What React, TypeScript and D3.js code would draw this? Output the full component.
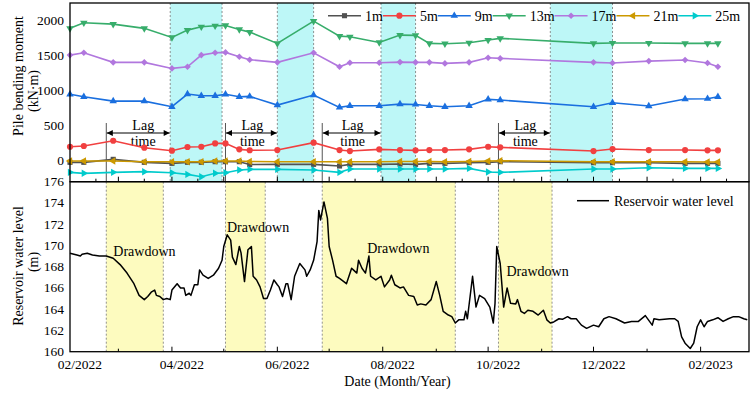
/** @format */

import React, { useEffect, useRef } from 'react';
import * as d3 from 'd3';

// Pile bending moment survey dates
const surveyDates = [
	'2022-02-01', '2022-02-09', '2022-02-26', '2022-03-16', '2022-04-01',
	'2022-04-10', '2022-04-18', '2022-04-26', '2022-05-02', '2022-05-10',
	'2022-05-16', '2022-06-01', '2022-06-22', '2022-07-07', '2022-07-13',
	'2022-07-30', '2022-08-11', '2022-08-20', '2022-08-28', '2022-09-06',
	'2022-09-20', '2022-10-01', '2022-10-08', '2022-12-01', '2022-12-12',
	'2023-01-02', '2023-01-23', '2023-02-05', '2023-02-11',
];

// Bending moment (kN·m) at each depth
const moment1m = [-33, -33, 10, -33, -48, -33, -33, -24, -24, -24, -65, -62, -62, -86, -62, -62, -57, -62, -48, -48, -38, -33, -24, -38, -38, -38, -48, -48, -48];
const moment5m = [191, 201, 277, 177, 134, 187, 191, 239, 239, 153, 140, 143, 249, 143, 129, 153, 143, 139, 143, 143, 153, 191, 182, 129, 158, 143, 143, 139, 139];
const moment9m = [943, 908, 846, 846, 765, 947, 923, 923, 943, 908, 913, 789, 933, 756, 779, 779, 803, 798, 779, 765, 779, 871, 861, 765, 822, 775, 875, 880, 908];
const moment13m = [1890, 1970, 1951, 1890, 1760, 1865, 1912, 1927, 1932, 1875, 1836, 1674, 1994, 1779, 1769, 1688, 1793, 1789, 1674, 1669, 1683, 1722, 1746, 1674, 1679, 1679, 1674, 1674, 1674];
const moment17m = [1506, 1540, 1402, 1402, 1315, 1339, 1506, 1540, 1545, 1483, 1440, 1402, 1540, 1339, 1396, 1396, 1406, 1402, 1402, 1387, 1402, 1468, 1459, 1402, 1392, 1420, 1435, 1392, 1339];
const moment21m = [-14, -14, -14, -24, -24, -24, -24, -14, -14, -14, -20, -24, -24, -24, -24, -24, -20, -20, -20, -24, -20, -14, -10, -24, -24, -24, -24, -28, -28];
const moment25m = [-177, -191, -177, -167, -182, -206, -239, -191, -182, -143, -134, -134, -143, -177, -129, -129, -129, -129, -129, -129, -120, -172, -177, -129, -129, -110, -120, -120, -120];

const depthNames = ['1m', '5m', '9m', '13m', '17m', '21m', '25m'];
const depthValues = [moment1m, moment5m, moment9m, moment13m, moment17m, moment21m, moment25m];

// Reservoir water level (m)
const reservoirLevel: [string, number][] = [
	['2022-02-01', 169.26], ['2022-02-05', 169.1], ['2022-02-07', 169.0], ['2022-02-08', 169.17],
	['2022-02-11', 169.26], ['2022-02-14', 169.1], ['2022-02-18', 169.0], ['2022-02-22', 169.0],
	['2022-02-26', 168.8], ['2022-03-02', 168.2], ['2022-03-06', 167.4], ['2022-03-10', 166.4],
	['2022-03-13', 165.3], ['2022-03-16', 164.9], ['2022-03-18', 165.2], ['2022-03-20', 165.6],
	['2022-03-22', 165.8], ['2022-03-23', 165.3], ['2022-03-25', 165.2], ['2022-03-27', 164.9],
	['2022-03-29', 165.0], ['2022-03-31', 164.9], ['2022-04-01', 165.8], ['2022-04-04', 166.4],
	['2022-04-06', 166.0], ['2022-04-08', 166.0], ['2022-04-09', 165.3], ['2022-04-11', 165.5],
	['2022-04-12', 165.3], ['2022-04-14', 166.3], ['2022-04-16', 166.3], ['2022-04-17', 167.7],
	['2022-04-19', 167.2], ['2022-04-22', 166.9], ['2022-04-25', 167.2], ['2022-04-28', 167.85],
	['2022-04-30', 168.6], ['2022-05-01', 169.9], ['2022-05-03', 171.0], ['2022-05-05', 170.5],
	['2022-05-06', 168.9], ['2022-05-08', 168.2], ['2022-05-10', 169.9], ['2022-05-11', 169.3],
	['2022-05-13', 166.6], ['2022-05-15', 169.6], ['2022-05-17', 169.9], ['2022-05-18', 167.1],
	['2022-05-20', 166.75], ['2022-05-22', 166.1], ['2022-05-24', 165.0], ['2022-05-26', 165.0],
	['2022-05-28', 165.8], ['2022-05-30', 166.75], ['2022-06-01', 166.3], ['2022-06-02', 166.1],
	['2022-06-04', 165.2], ['2022-06-06', 166.4], ['2022-06-07', 166.4], ['2022-06-09', 164.9],
	['2022-06-11', 167.1], ['2022-06-14', 168.3], ['2022-06-17', 167.7], ['2022-06-18', 167.1],
	['2022-06-20', 167.7], ['2022-06-22', 168.6], ['2022-06-24', 170.35], ['2022-06-25', 173.3],
	['2022-06-26', 172.4], ['2022-06-28', 174.1], ['2022-06-30', 172.55], ['2022-07-01', 169.9],
	['2022-07-03', 168.6], ['2022-07-05', 167.1], ['2022-07-07', 166.9], ['2022-07-11', 166.4],
	['2022-07-14', 167.85], ['2022-07-15', 167.7], ['2022-07-17', 167.4], ['2022-07-18', 168.6],
	['2022-07-20', 167.85], ['2022-07-22', 167.4], ['2022-07-24', 169.0], ['2022-07-25', 167.1],
	['2022-07-28', 166.75], ['2022-07-31', 167.1], ['2022-08-02', 166.1], ['2022-08-05', 166.75],
	['2022-08-06', 167.2], ['2022-08-08', 166.3], ['2022-08-11', 166.0], ['2022-08-13', 166.1],
	['2022-08-16', 165.3], ['2022-08-19', 165.2], ['2022-08-21', 164.4], ['2022-08-23', 164.5],
	['2022-08-26', 164.4], ['2022-08-29', 164.9], ['2022-09-01', 166.6], ['2022-09-03', 165.3],
	['2022-09-05', 163.8], ['2022-09-08', 163.45], ['2022-09-10', 163.3], ['2022-09-12', 162.7],
	['2022-09-14', 163.0], ['2022-09-17', 163.0], ['2022-09-18', 163.8], ['2022-09-19', 163.1],
	['2022-09-22', 167.1], ['2022-09-24', 164.2], ['2022-09-26', 165.3], ['2022-09-29', 165.0],
	['2022-10-02', 164.2], ['2022-10-04', 162.7], ['2022-10-05', 164.55], ['2022-10-06', 169.9],
	['2022-10-08', 168.3], ['2022-10-10', 164.2], ['2022-10-12', 166.0], ['2022-10-14', 164.55],
	['2022-10-17', 164.5], ['2022-10-18', 164.9], ['2022-10-20', 163.8], ['2022-10-22', 163.6],
	['2022-10-24', 163.9], ['2022-10-27', 163.8], ['2022-10-30', 163.45], ['2022-11-02', 163.9],
	['2022-11-04', 163.0], ['2022-11-06', 162.7], ['2022-11-08', 162.8], ['2022-11-11', 163.1],
	['2022-11-13', 163.05], ['2022-11-16', 163.3], ['2022-11-18', 163.1], ['2022-11-21', 163.1],
	['2022-11-24', 162.5], ['2022-11-27', 162.2], ['2022-12-01', 162.5], ['2022-12-04', 162.35],
	['2022-12-07', 163.1], ['2022-12-10', 163.3], ['2022-12-14', 163.1], ['2022-12-19', 162.7],
	['2022-12-23', 162.85], ['2022-12-27', 162.85], ['2022-12-31', 163.4], ['2023-01-04', 162.5],
	['2023-01-05', 163.1], ['2023-01-08', 163.0], ['2023-01-11', 163.05], ['2023-01-14', 163.1],
	['2023-01-17', 163.1], ['2023-01-19', 162.85], ['2023-01-21', 161.4], ['2023-01-23', 160.8],
	['2023-01-26', 160.3], ['2023-01-28', 160.8], ['2023-01-30', 162.35], ['2023-02-01', 163.0],
	['2023-02-03', 162.35], ['2023-02-05', 162.85], ['2023-02-08', 163.0], ['2023-02-11', 163.2],
	['2023-02-14', 162.85], ['2023-02-17', 163.1], ['2023-02-20', 163.3], ['2023-02-23', 163.3],
	['2023-02-26', 163.1], ['2023-02-28', 163.0],
];

// Drawdown periods of the reservoir and the matching pile response periods
const drawdownPeriods: [string, string][] = [
	['2022-02-22', '2022-03-27'],
	['2022-05-02', '2022-05-25'],
	['2022-06-27', '2022-09-12'],
	['2022-10-07', '2022-11-07'],
];
const responsePeriods: [string, string][] = [
	['2022-03-31', '2022-04-30'],
	['2022-06-01', '2022-06-22'],
	['2022-07-31', '2022-08-20'],
	['2022-11-06', '2022-12-12'],
];

const momentTicks = [0, 500, 1000, 1500, 2000];
const levelTicks = [160, 162, 164, 166, 168, 170, 172, 174, 176];

const colors = ['#515151', '#F14040', '#1A6FDF', '#37AD6B', '#B177DE', '#CC9900', '#00CBCC'];
const FONT = "'Liberation Serif', 'Times New Roman', serif";

const App: React.FC = () => {
	const ref = useRef<SVGSVGElement>(null);

	useEffect(() => {
		if (!ref.current) return;
		const svg = d3.select(ref.current);
		svg.selectAll('*').remove();

		const left = 70;
		const right = 749;
		const top = 3;
		const mid = 181.7;
		const bottom = 351.7;

		const parse = d3.timeParse('%Y-%m-%d');
		const p = (s: string) => parse(s) as Date;

		const x = d3
			.scaleTime()
			.domain([p('2022-02-01'), p('2023-03-01')])
			.range([left, right]);
		const yMoment = d3.scaleLinear().domain([-311, 2254]).range([mid, top]);
		const yLevel = d3.scaleLinear().domain([160, 176]).range([bottom, mid]);

		svg.attr('font-family', FONT);

		// arrowhead for lag-time arrows
		svg
			.append('defs')
			.append('marker')
			.attr('id', 'lag-arrow')
			.attr('viewBox', '0 0 10 10')
			.attr('refX', 10)
			.attr('refY', 5)
			.attr('markerWidth', 9)
			.attr('markerHeight', 6)
			.attr('markerUnits', 'userSpaceOnUse')
			.attr('orient', 'auto-start-reverse')
			.append('path')
			.attr('d', 'M0,0 L10,5 L0,10 Z')
			.attr('fill', '#000');

		// --- shaded periods ---
		const bands = (
			periods: [string, string][],
			fill: string,
			y0: number,
			y1: number,
		) => {
			const g = svg.append('g');
			g.selectAll('rect')
				.data(periods)
				.enter()
				.append('rect')
				.attr('x', (d) => x(p(d[0])))
				.attr('width', (d) => x(p(d[1])) - x(p(d[0])))
				.attr('y', y0)
				.attr('height', y1 - y0)
				.attr('fill', fill);
			g.selectAll('line')
				.data(periods.flat())
				.enter()
				.append('line')
				.attr('x1', (d) => x(p(d)))
				.attr('x2', (d) => x(p(d)))
				.attr('y1', y0)
				.attr('y2', y1)
				.attr('stroke', '#777')
				.attr('stroke-width', 0.8)
				.attr('stroke-dasharray', '2,2');
		};
		bands(responsePeriods, '#bdf7f7', top, mid);
		bands(drawdownPeriods, '#fdfbbf', mid, bottom);

		// --- lag time annotations ---
		const lag = svg.append('g');
		drawdownPeriods.forEach((dd, i) => {
			const x0 = x(p(dd[0]));
			const x1 = x(p(responsePeriods[i][0]));
			lag.append('line')
				.attr('x1', x0)
				.attr('x2', x0)
				.attr('y1', 123)
				.attr('y2', mid)
				.attr('stroke', '#555')
				.attr('stroke-width', 1);
			lag.append('line')
				.attr('x1', x0 + 0.5)
				.attr('x2', x1 - 0.5)
				.attr('y1', 133)
				.attr('y2', 133)
				.attr('stroke', '#000')
				.attr('stroke-width', 1)
				.attr('marker-start', 'url(#lag-arrow)')
				.attr('marker-end', 'url(#lag-arrow)');
			const cx = (x0 + x1) / 2 + (i === 0 ? 5 : 1);
			lag.append('text')
				.attr('x', cx)
				.attr('y', 129.5)
				.attr('text-anchor', 'middle')
				.attr('font-size', 14)
				.text('Lag');
			lag.append('text')
				.attr('x', cx)
				.attr('y', 146)
				.attr('text-anchor', 'middle')
				.attr('font-size', 14)
				.text('time');
		});

		// --- bending moment series ---
		const dates = surveyDates.map(p);
		const line = d3
			.line<number>()
			.x((_, i) => x(dates[i]))
			.y((d) => yMoment(d));
		const shapes = [
			{ type: d3.symbolSquare, size: 26, rot: 0 },
			{ type: d3.symbolCircle, size: 30, rot: 0 },
			{ type: d3.symbolTriangle, size: 24, rot: 0 },
			{ type: d3.symbolTriangle, size: 24, rot: 180 },
			{ type: d3.symbolSquare, size: 22, rot: 45 },
			{ type: d3.symbolTriangle, size: 24, rot: -90 },
			{ type: d3.symbolTriangle, size: 24, rot: 90 },
		];
		const drawMarker = (
			g: d3.Selection<SVGGElement, unknown, null, undefined>,
			k: number,
			cx: number,
			cy: number,
		) => {
			g.append('path')
				.attr('d', d3.symbol(shapes[k].type, shapes[k].size)() as string)
				.attr('transform', `translate(${cx},${cy}) rotate(${shapes[k].rot})`)
				.attr('fill', colors[k]);
		};

		const seriesG = svg.append('g');
		depthValues.forEach((vals, k) => {
			seriesG
				.append('path')
				.attr('d', line(vals))
				.attr('fill', 'none')
				.attr('stroke', colors[k])
				.attr('stroke-width', 1.6);
			const mg = seriesG.append('g') as d3.Selection<SVGGElement, unknown, null, undefined>;
			vals.forEach((v, i) => drawMarker(mg, k, x(dates[i]), yMoment(v)));
		});

		// --- reservoir water level ---
		svg
			.append('path')
			.datum(reservoirLevel)
			.attr(
				'd',
				d3
					.line<[string, number]>()
					.x((d) => x(p(d[0])))
					.y((d) => yLevel(d[1])),
			)
			.attr('fill', 'none')
			.attr('stroke', '#000')
			.attr('stroke-width', 1.5)
			.attr('stroke-linejoin', 'round');

		// drawdown labels: [offset from period start, baseline]
		const drawdownLabelAt = [
			[7, 256],
			[1.5, 232],
			[45, 253],
			[8, 276],
		];
		drawdownPeriods.forEach((dd, i) => {
			svg
				.append('text')
				.attr('x', x(p(dd[0])) + drawdownLabelAt[i][0])
				.attr('y', drawdownLabelAt[i][1])
				.attr('font-size', 14)
				.text('Drawdown');
		});

		// --- frames ---
		svg
			.append('rect')
			.attr('x', left)
			.attr('y', top)
			.attr('width', right - left)
			.attr('height', mid - top)
			.attr('fill', 'none')
			.attr('stroke', '#000')
			.attr('stroke-width', 1.3);
		svg
			.append('rect')
			.attr('x', left)
			.attr('y', mid)
			.attr('width', right - left)
			.attr('height', bottom - mid)
			.attr('fill', 'none')
			.attr('stroke', '#000')
			.attr('stroke-width', 1.3);

		// --- x ticks ---
		const months = d3.timeMonth.range(p('2022-02-01'), p('2023-03-02'));
		const ticksG = svg.append('g').attr('stroke', '#000').attr('stroke-width', 1);
		months.forEach((m, i) => {
			const mx = x(m);
			if (mx > left + 0.5 && mx < right - 0.5) {
				// bottom panel: monthly, longer on labelled months
				ticksG.append('line')
					.attr('x1', mx)
					.attr('x2', mx)
					.attr('y1', bottom)
					.attr('y2', bottom - (i % 2 === 0 ? 5 : 3));
				// top panel: monthly and half-monthly
				ticksG.append('line')
					.attr('x1', mx)
					.attr('x2', mx)
					.attr('y1', mid)
					.attr('y2', mid - 5);
			}
			const half = x(d3.timeDay.offset(m, 15));
			if (half > left + 0.5 && half < right - 0.5) {
				ticksG.append('line')
					.attr('x1', half)
					.attr('x2', half)
					.attr('y1', mid)
					.attr('y2', mid - 3);
			}
			if (i % 2 === 0 && mx <= right) {
				svg
					.append('text')
					.attr('x', mx + 10)
					.attr('y', 369)
					.attr('text-anchor', 'middle')
					.attr('font-size', 13.5)
					.text(d3.timeFormat('%m/%Y')(m));
			}
		});

		// --- y tick labels ---
		svg
			.append('g')
			.selectAll('text')
			.data(momentTicks)
			.enter()
			.append('text')
			.attr('x', 64)
			.attr('y', (d) => yMoment(d) + 4.5)
			.attr('text-anchor', 'end')
			.attr('font-size', 13.5)
			.text((d) => d);
		svg
			.append('g')
			.selectAll('text')
			.data(levelTicks)
			.enter()
			.append('text')
			.attr('x', 64)
			.attr('y', (d) => yLevel(d) + 4.5)
			.attr('text-anchor', 'end')
			.attr('font-size', 13.5)
			.text((d) => d);

		// --- axis titles ---
		const yTitle = (lines: [string, number, number][]) => {
			lines.forEach(([t, bx, cy]) => {
				svg
					.append('text')
					.attr('transform', `translate(${bx},${cy}) rotate(-90)`)
					.attr('text-anchor', 'middle')
					.attr('font-size', 14)
					.text(t);
			});
		};
		yTitle([
			['Pile bending moment', 23, 76],
			['(kN·m)', 38, 91],
		]);
		yTitle([
			['Reservoir water level', 23, 266],
			['(m)', 38, 262],
		]);
		svg
			.append('text')
			.attr('x', 397.5)
			.attr('y', 385.5)
			.attr('text-anchor', 'middle')
			.attr('font-size', 14)
			.text('Date (Month/Year)');

		// --- legends ---
		const legend = svg.append('g') as d3.Selection<SVGGElement, unknown, null, undefined>;
		let lx = 328;
		depthNames.forEach((name, k) => {
			legend.append('line')
				.attr('x1', lx)
				.attr('x2', lx + 33)
				.attr('y1', 15.7)
				.attr('y2', 15.7)
				.attr('stroke', colors[k])
				.attr('stroke-width', 1.6);
			drawMarker(legend, k, lx + 16.5, 15.7);
			const t = legend
				.append('text')
				.attr('x', lx + 37)
				.attr('y', 20.5)
				.attr('font-size', 14)
				.text(name);
			lx += 37 + (t.node() as SVGTextElement).getComputedTextLength();
		});

		svg
			.append('line')
			.attr('x1', 577)
			.attr('x2', 609)
			.attr('y1', 200.7)
			.attr('y2', 200.7)
			.attr('stroke', '#000')
			.attr('stroke-width', 1.5);
		svg
			.append('text')
			.attr('x', 614)
			.attr('y', 205.5)
			.attr('font-size', 14)
			.text('Reservoir water level');
	}, []);

	return (
		<svg
			ref={ref}
			width={752}
			height={400}
			style={{ position: 'absolute', left: 0, top: 0, background: '#fff' }}
		/>
	);
};

export default App;
